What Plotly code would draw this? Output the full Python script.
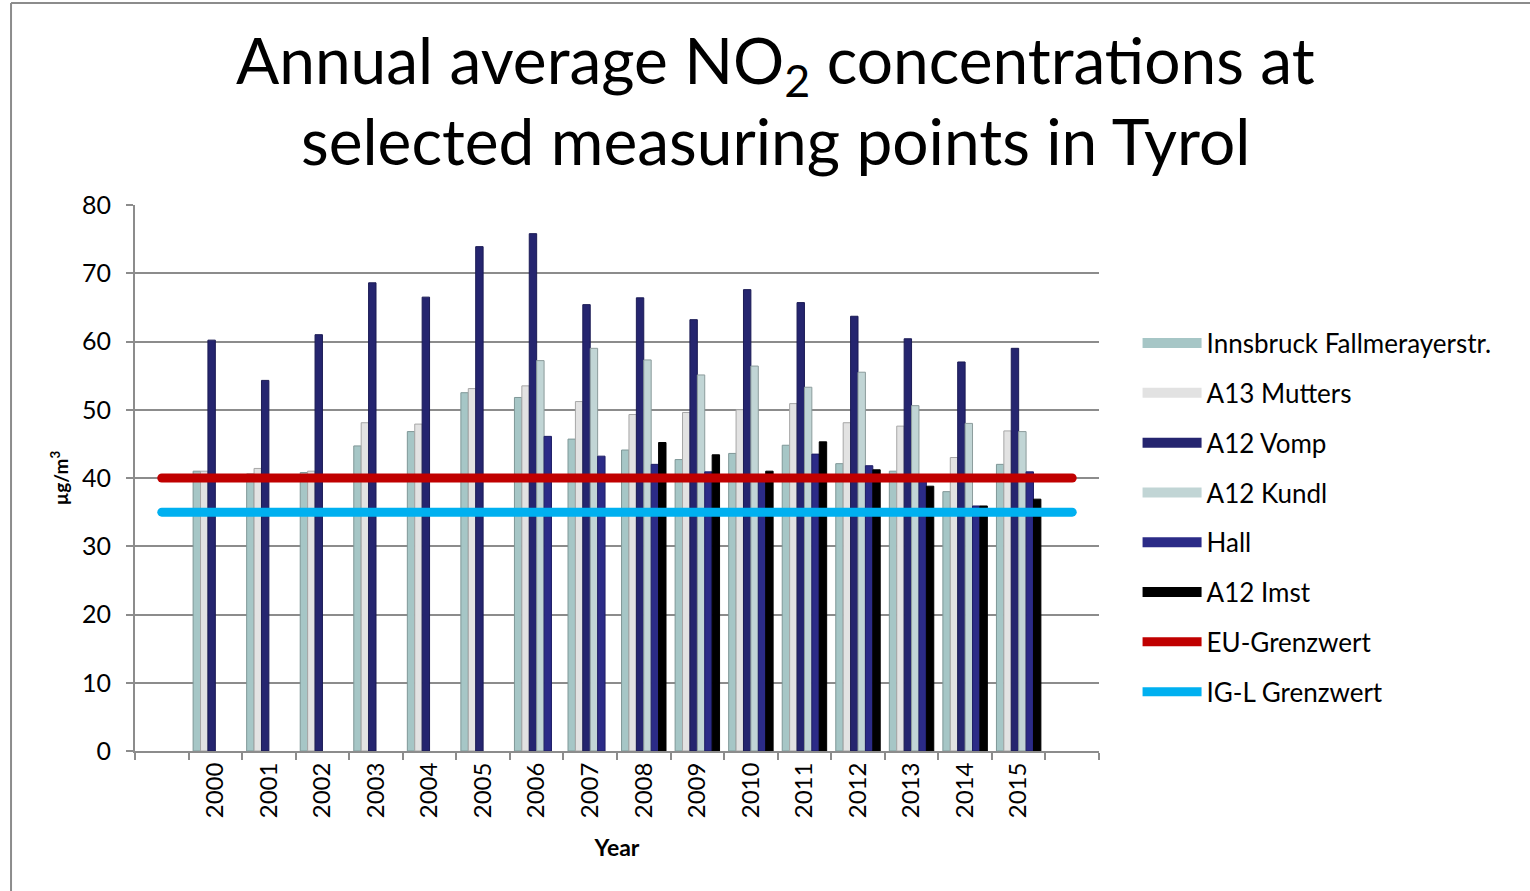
import plotly.graph_objects as go

# years shown on the axis; the limit lines run over one extra slot on each side
years = [2000, 2001, 2002, 2003, 2004, 2005, 2006, 2007,
         2008, 2009, 2010, 2011, 2012, 2013, 2014, 2015]
line_years = [1999, 2000, 2001, 2002, 2003, 2004, 2005, 2006, 2007,
              2008, 2009, 2010, 2011, 2012, 2013, 2014, 2015, 2016]

innsbruck = [41.0, 40.6, 40.8, 44.7, 46.8, 52.5, 51.8, 45.7,
             44.1, 42.7, 43.6, 44.8, 42.1, 41.0, 38.0, 42.0]
mutters = [41.0, 41.4, 41.0, 48.1, 47.9, 53.1, 53.5, 51.2,
           49.3, 49.6, 50.0, 50.9, 48.1, 47.6, 43.0, 46.9]
vomp = [60.2, 54.3, 61.0, 68.6, 66.5, 73.9, 75.8, 65.4,
        66.4, 63.2, 67.6, 65.7, 63.7, 60.4, 57.0, 59.0]
kundl = [None, None, None, None, None, None, 57.2, 59.0,
         57.3, 55.1, 56.4, 53.3, 55.5, 50.6, 48.0, 46.8]
hall = [None, None, None, None, None, None, 46.1, 43.2,
        42.0, 40.9, 40.2, 43.5, 41.8, 40.2, 35.9, 40.9]
imst = [None, None, None, None, None, None, None, None,
        45.2, 43.4, 41.0, 45.3, 41.2, 38.8, 35.9, 36.9]

eu_limit = [40, 40, 40, 40, 40, 40, 40, 40, 40,
            40, 40, 40, 40, 40, 40, 40, 40, 40]
igl_limit = [35, 35, 35, 35, 35, 35, 35, 35, 35,
             35, 35, 35, 35, 35, 35, 35, 35, 35]

FONT = "Lato"
GRID = "#8C8C8C"

series = [
    ("Innsbruck Fallmerayerstr.", innsbruck, "#A6C6C6", "#7F9797"),
    ("A13 Mutters", mutters, "#E2E2E2", "#A6A6A6"),
    ("A12 Vomp", vomp, "#25256F", "#1B1B55"),
    ("A12 Kundl", kundl, "#C1D5D5", "#8C9C9C"),
    ("Hall", hall, "#2B2B87", "#1F1F66"),
    ("A12 Imst", imst, "#000000", "#000000"),
]

fig = go.Figure()

for name, vals, fill, edge in series:
    fig.add_trace(go.Bar(
        x=years, y=vals, name=name, showlegend=False,
        marker=dict(color=fill, line=dict(color=edge, width=1)),
    ))

fig.add_trace(go.Scatter(
    x=line_years, y=eu_limit, name="EU-Grenzwert", showlegend=False,
    mode="lines", line=dict(color="#C00000", width=9),
))
fig.add_trace(go.Scatter(
    x=line_years, y=igl_limit, name="IG-L Grenzwert", showlegend=False,
    mode="lines", line=dict(color="#00B0F0", width=9),
))

# legend entries drawn as wide swatches, like the reference
legend_items = [(name, fill, 13) for name, _, fill, _ in series]
legend_items += [("EU-Grenzwert", "#C00000", 9), ("IG-L Grenzwert", "#00B0F0", 9)]
for name, col, w in legend_items:
    fig.add_trace(go.Scatter(
        x=[None], y=[None], name=name, legendgroup=name, mode="lines",
        line=dict(color=col, width=w), hoverinfo="skip",
    ))

# slide frame (left and top edges)
fig.add_shape(type="line", xref="paper", yref="paper",
              x0=-0.1286, x1=-0.1286, y0=-0.26, y1=1.37,
              line=dict(color=GRID, width=2))
fig.add_shape(type="line", xref="paper", yref="paper",
              x0=-0.1286, x1=1.45, y0=1.37, y1=1.37,
              line=dict(color=GRID, width=2))

# title, one annotation per line to keep the tight line spacing
title_lines = ["Annual average NO<sub>2</sub> concentrations at",
               "selected measuring points in Tyrol"]
for text, ypx in zip(title_lines, [64, 140]):
    fig.add_annotation(
        text=text, xref="paper", yref="paper",
        x=(775 - 135) / 964, y=(751 - ypx) / 546,
        xanchor="center", yanchor="middle", showarrow=False,
        font=dict(family=FONT, size=64, color="black"),
    )

fig.update_layout(
    width=1530, height=891,
    margin=dict(l=135, r=431, t=205, b=140),
    paper_bgcolor="white", plot_bgcolor="white",
    font=dict(family=FONT, color="black"),
    barmode="group", bargap=0.17, bargroupgap=0,
    legend=dict(
        x=1.04, xanchor="left", y=0.79, yanchor="top",
        font=dict(family=FONT, size=26, color="black"),
        tracegroupgap=13, itemwidth=59,
        bgcolor="rgba(0,0,0,0)",
    ),
    xaxis=dict(
        range=[1998.5, 2016.5],
        tickmode="array", tickvals=years, ticktext=[str(y) for y in years],
        tickangle=-90, ticks="", showgrid=False,
        tickfont=dict(family=FONT, size=24),
        showline=True, linecolor=GRID, linewidth=2,
        minor=dict(tickmode="linear", tick0=1998.5, dtick=1, ticks="outside",
                   ticklen=7, tickcolor=GRID, tickwidth=2, showgrid=False),
        title=dict(text="<b>Year</b>", font=dict(family=FONT, size=23), standoff=23),
    ),
    yaxis=dict(
        range=[0, 80], dtick=10, tick0=0,
        ticks="outside", ticklen=7, tickcolor=GRID, tickwidth=2,
        tickfont=dict(family=FONT, size=25), ticklabelstandoff=10,
        showgrid=True, gridcolor=GRID, gridwidth=2,
        showline=True, linecolor=GRID, linewidth=2, zeroline=False,
        title=dict(text="<b>µg/m<sup>3</sup></b>", font=dict(family=FONT, size=19), standoff=8),
    ),
)

post = """
document.body.style.margin = '0';
document.querySelectorAll('.scatterlayer .js-line').forEach(function (p) {
    p.style.strokeLinecap = 'round';
});
"""
fig.write_html("out.html", post_script=post, config={"displayModeBar": False})
